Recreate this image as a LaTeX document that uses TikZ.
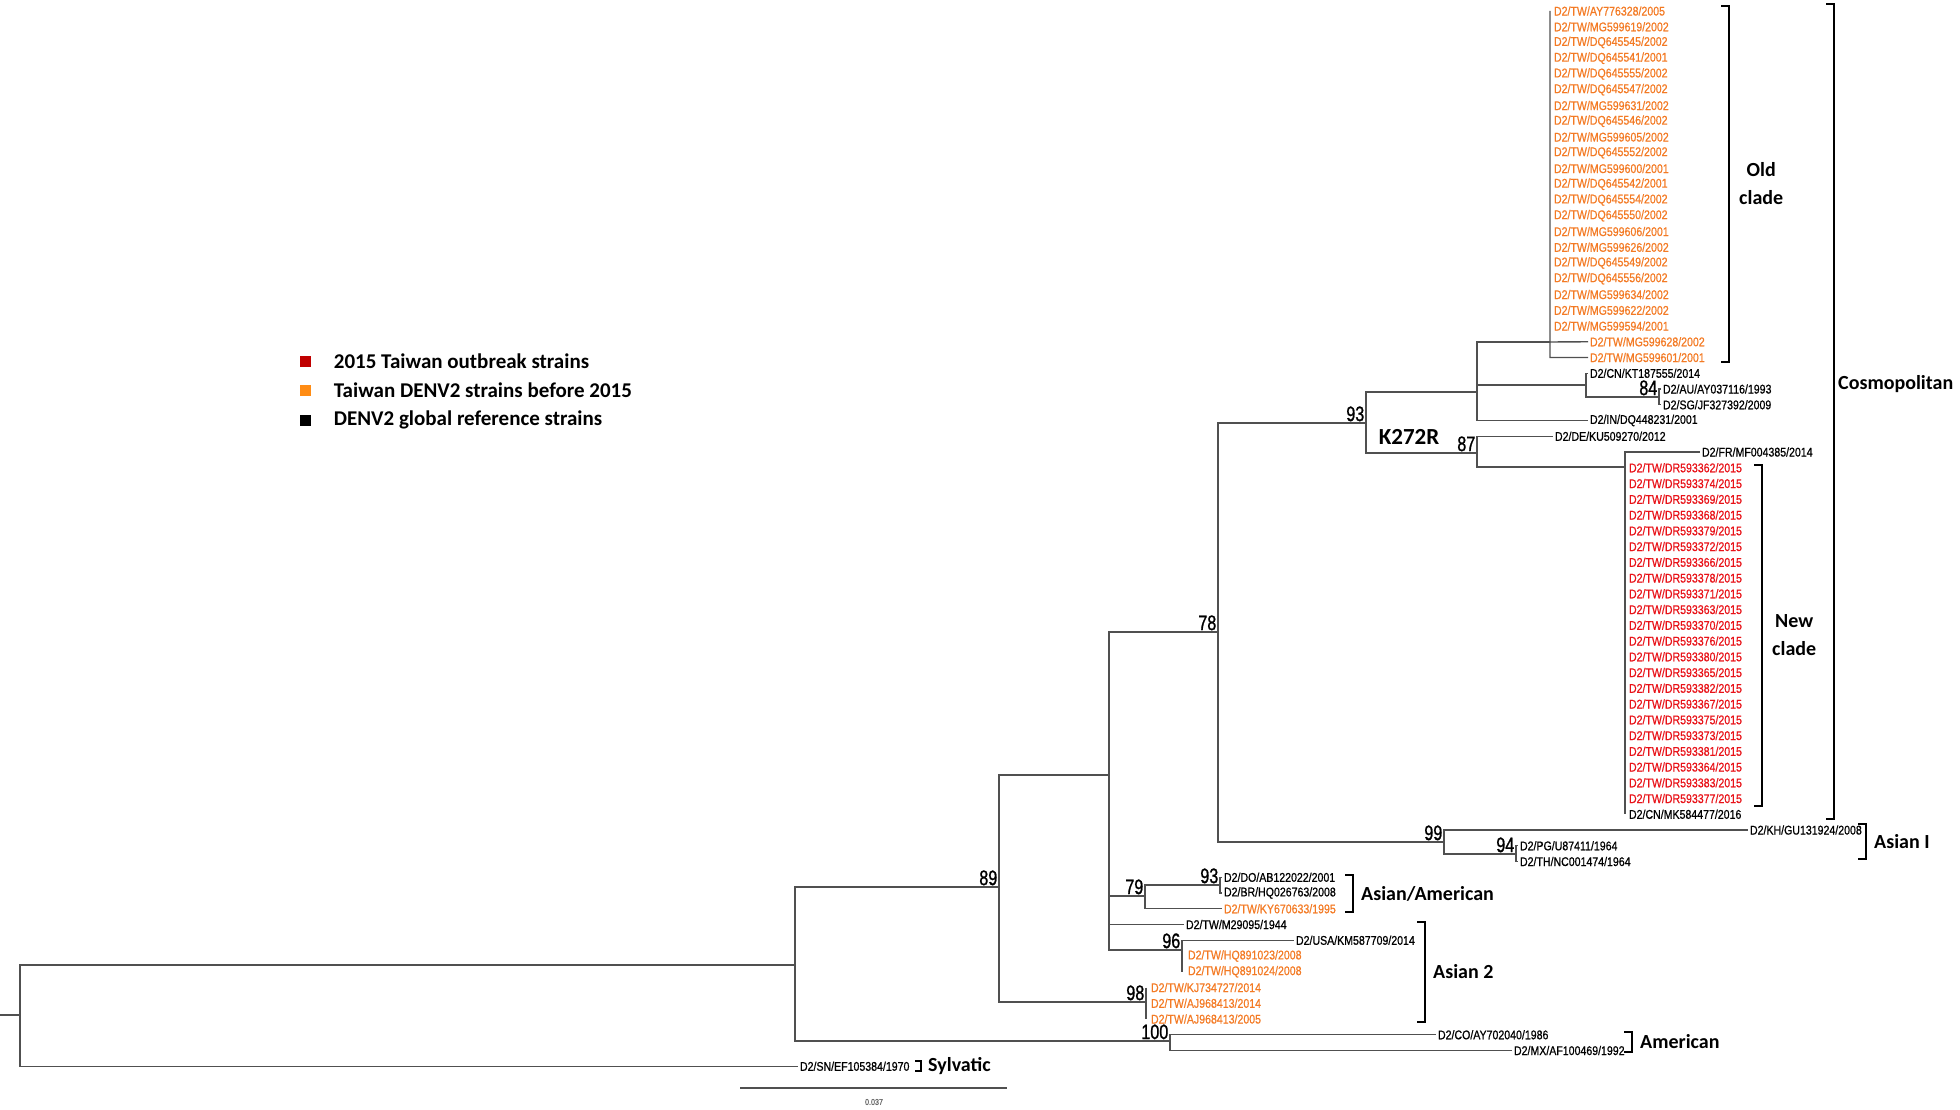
\documentclass[tikz,border=0pt]{standalone}
\usepackage{fontspec}
\setmainfont{Carlito}
\newfontfamily\tipfont[FakeStretch=0.84,FakeBold=0.8]{Liberation Sans}
\newfontfamily\bootfont[FakeStretch=0.77,FakeBold=1]{Liberation Sans}
\usetikzlibrary{positioning,calc}
\definecolor{twold}{RGB}{243,122,36}
\definecolor{outbreak}{RGB}{232,18,24}
\definecolor{legred}{RGB}{192,0,0}
\definecolor{legorange}{RGB}{255,140,20}
\definecolor{branchgray}{RGB}{80,80,80}

\begin{document}
\begin{tikzpicture}[
	x=1pt, y=-1pt,
	node distance=20pt,
	branch/.style={draw=branchgray, line width=1.4pt},
	strong/.style={draw=branchgray, line width=2.4pt},
	tip/.style={anchor=west, inner sep=0pt, outer xsep=2pt,
		font=\tipfont\fontsize{12.6}{14}\selectfont},
	oldtip/.style={tip, text=twold},
	newtip/.style={tip, text=outbreak},
	boot/.style={anchor=south east, inner sep=1.5pt,
		font=\bootfont\fontsize{21}{22}\selectfont},
	bracket/.style={draw, line width=2.2pt},
	clade/.style={font=\bfseries\fontsize{20}{28}\selectfont, align=center, inner sep=0pt},
	legsq/.style={minimum size=11pt, inner sep=0pt},
	legtext/.style={font=\bfseries\fontsize{21}{24}\selectfont, inner sep=0pt}
	]
\useasboundingbox (0,0) rectangle (1960,1110);

% tips
\foreach \lab [count=\i from 0] in {AY776328/2005, MG599619/2002, DQ645545/2002,
	DQ645541/2001, DQ645555/2002, DQ645547/2002, MG599631/2002, DQ645546/2002,
	MG599605/2002, DQ645552/2002, MG599600/2001, DQ645542/2001, DQ645554/2002,
	DQ645550/2002, MG599606/2001, MG599626/2002, DQ645549/2002, DQ645556/2002,
	MG599634/2002, MG599622/2002, MG599594/2001}
	\node[oldtip] (t\i) at (1552,{11+15.75*\i}) {D2/TW/\lab};
\node[oldtip] (t21) at (1588,341.75) {D2/TW/MG599628/2002};
\node[oldtip] (t22) at (1588,357.5) {D2/TW/MG599601/2001};
\node[tip] (t23) at (1588,373.25) {D2/CN/KT187555/2014};
\node[tip] (t24) at (1661,389) {D2/AU/AY037116/1993};
\node[tip] (t25) at (1661,404.75) {D2/SG/JF327392/2009};
\node[tip] (t26) at (1588,420.5) {D2/IN/DQ448231/2001};
\node[tip] (t27) at (1553,436.25) {D2/DE/KU509270/2012};
\node[tip] (t28) at (1700,452) {D2/FR/MF004385/2014};
\foreach \n [count=\i from 29] in {362,374,369,368,379,372,366,378,371,363,370,
	376,380,365,382,367,375,373,381,364,383,377}
	\node[newtip] (t\i) at (1627,{11+15.75*\i}) {D2/TW/DR593\n/2015};
\node[tip] (t51) at (1627,814.25) {D2/CN/MK584477/2016};
\node[tip] (t52) at (1748,830) {D2/KH/GU131924/2008};
\node[tip] (t53) at (1518,845.75) {D2/PG/U87411/1964};
\node[tip] (t54) at (1518,861.5) {D2/TH/NC001474/1964};
\node[tip] (t55) at (1222,877.25) {D2/DO/AB122022/2001};
\node[tip] (t56) at (1222,893) {D2/BR/HQ026763/2008};
\node[oldtip] (t57) at (1222,908.75) {D2/TW/KY670633/1995};
\node[tip] (t58) at (1184,924.5) {D2/TW/M29095/1944};
\node[tip] (t59) at (1294,940.25) {D2/USA/KM587709/2014};
\node[oldtip] (t60) at (1186,956) {D2/TW/HQ891023/2008};
\node[oldtip] (t61) at (1186,971.75) {D2/TW/HQ891024/2008};
\node[oldtip] (t62) at (1149,987.5) {D2/TW/KJ734727/2014};
\node[oldtip] (t63) at (1149,1003.25) {D2/TW/AJ968413/2014};
\node[oldtip] (t64) at (1149,1019) {D2/TW/AJ968413/2005};
\node[tip] (t65) at (1436,1034.75) {D2/CO/AY702040/1986};
\node[tip] (t66) at (1512,1050.5) {D2/MX/AF100469/1992};
\node[tip] (t67) at (798,1066.25) {D2/SN/EF105384/1970};

% inner nodes
\coordinate (stub) at (0,1015);
\coordinate (root) at (20,1015);
\coordinate (nA) at (795,965);
\coordinate (n89) at (999,887);
\coordinate (nAs) at (1109,775);
\coordinate (n78) at (1218,632);
\coordinate (n93) at (1366,423);
\coordinate (nPoly) at (1477,392);
\coordinate (nOld) at (1550,342);
\coordinate (nKT) at (1586,385);
\coordinate (n84) at (1659,397);
\coordinate (n87) at (1477,453);
\coordinate (nNew) at (1625,467);
\coordinate (n99) at (1444,842);
\coordinate (n94) at (1516,854);
\coordinate (n79) at (1145,896);
\coordinate (n93b) at (1220,885);
\coordinate (n96) at (1182,950);
\coordinate (n98) at (1146,1002);
\coordinate (n100) at (1170,1041);

% branches
\draw[branch] (stub) -- (root);
\draw[branch] (root) |- (nA) (root) |- (t67.west);
\draw[branch] (nA) |- (n89) (nA) |- (n100);
\draw[branch] (n89) |- (nAs) (n89) |- (n98);
\draw[strong] (n89 |- n98) -- (n98);
\draw[branch] (nAs) |- (n78) (nAs) |- (t58.west) (nAs) |- (n96) (nAs) |- (n79);
\draw[strong] (nAs |- n79) -- (n79);
\draw[branch] (n78) |- (n93) (n78) |- (n99);
\draw[strong] (n93) |- (nPoly) (n93) |- (n87);
\draw[branch] (nPoly) |- (nOld) (nPoly) |- (nKT) (nPoly) |- (t26.west);
\draw[branch] (nOld |- t0.west) -- (nOld |- t22.west) -- (t22.west) (nOld) -- (t21.west);
\draw[branch] (nKT) |- (t23.west) (nKT) |- (n84);
\draw[branch] (n84) |- (t24.west) (n84) |- (t25.west);
\draw[branch] (n87) |- (t27.west) (n87) |- (nNew);
\draw[branch] (t28.west) -- (nNew |- t28.west) -- (nNew |- t51.west);
\draw[branch] (n99) |- (t52.west) (n99) |- (n94);
\draw[branch] (n94) |- (t53.west) (n94) |- (t54.west);
\draw[branch] (n79) |- (n93b) (n79) |- (t57.west);
\draw[branch] (n93b) |- (t55.west) (n93b) |- (t56.west);
\draw[branch] (n96) |- (t59.west) (n96 |- t59.west) -- (n96 |- t61.west);
\draw[branch] (n98 |- t62.west) -- (n98 |- t64.west);
\draw[branch] (n100) |- (t65.west) (n100) |- (t66.west);

% bootstrap values
\node[boot] (b89) at (n89) {89};
\node[boot] (b78) at (n78) {78};
\node[boot] (b93) at (n93) {93};
\node[boot] (b87) at (n87) {87};
\node[boot] (b84) at (n84) {84};
\node[boot] (b99) at (n99) {99};
\node[boot] (b94) at (n94) {94};
\node[boot] (b79) at (n79) {79};
\node[boot] (b93b) at (n93b) {93};
\node[boot] (b96) at (n96) {96};
\node[boot] (b98) at (n98) {98};
\node[boot] (b100) at (n100) {100};
\node[font=\bfseries\fontsize{23}{24}\selectfont] (mut) at (1409,437) {K272R};

% clade brackets
\coordinate (oldT) at (1729,6);   \coordinate (oldB) at (1729,362);
\coordinate (cosT) at (1834,4);   \coordinate (cosB) at (1834,819);
\coordinate (newT) at (1762,465); \coordinate (newB) at (1762,806);
\coordinate (asIT) at (1866,824); \coordinate (asIB) at (1866,859);
\coordinate (aaT) at (1353,875);  \coordinate (aaB) at (1353,912);
\coordinate (as2T) at (1425,922); \coordinate (as2B) at (1425,1022);
\coordinate (amT) at (1632,1032); \coordinate (amB) at (1632,1052);
\coordinate (syT) at (921,1061);  \coordinate (syB) at (921,1071);
\foreach \br in {old,cos,new,asI,aa,as2,am,sy}
	\coordinate (\br M) at ($(\br T)!0.5!(\br B)$);
\foreach \br in {old,cos,new,asI,aa,as2,am}
	\draw[bracket] (\br T) ++(-8,0) -- (\br T) -- (\br B) -- ++(-8,0);
\draw[line width=1.4pt] (syT) ++(-6,0) -- (syT) -- (syB) -- ++(-6,0);

\node[clade, right=10pt of oldM] (oldc) {Old\\clade};
\node[clade, right=10pt of newM] (newc) {New\\clade};
\node[clade, anchor=west] (cosmo) at (1838,384) {Cosmopolitan};
\node[clade, right=8pt of asIM] (asiaI) {Asian I};
\node[clade, right=8pt of aaM] (asam) {Asian/American};
\node[clade, right=8pt of as2M] (asia2) {Asian 2};
\node[clade, right=8pt of amM] (amer) {American};
\node[clade, right=7pt of syM] (sylv) {Sylvatic};

% scale bar
\coordinate (sbL) at (740,1088);
\coordinate (sbR) at (1007,1088);
\draw[line width=1.8pt, branchgray] (sbL) -- (sbR);
\node[font=\tipfont\fontsize{8.5}{9}\selectfont, text=black!60, inner sep=0pt] (sbtext) at (874,1102) {0.037};

% legend
\node[legsq, fill=legred] (sqNew) at (305,361) {};
\node[legsq, fill=legorange] (sqOld) at (305,390) {};
\node[legsq, fill=black] (sqRef) at (305,420) {};
\node[legtext, right=23pt of sqNew] (lgNew) {2015 Taiwan outbreak strains};
\node[legtext, right=23pt of sqOld] (lgOld) {Taiwan DENV2 strains before 2015};
\node[legtext, right=23pt of sqRef] (lgRef) {DENV2 global reference strains};
\end{tikzpicture}
\end{document}
